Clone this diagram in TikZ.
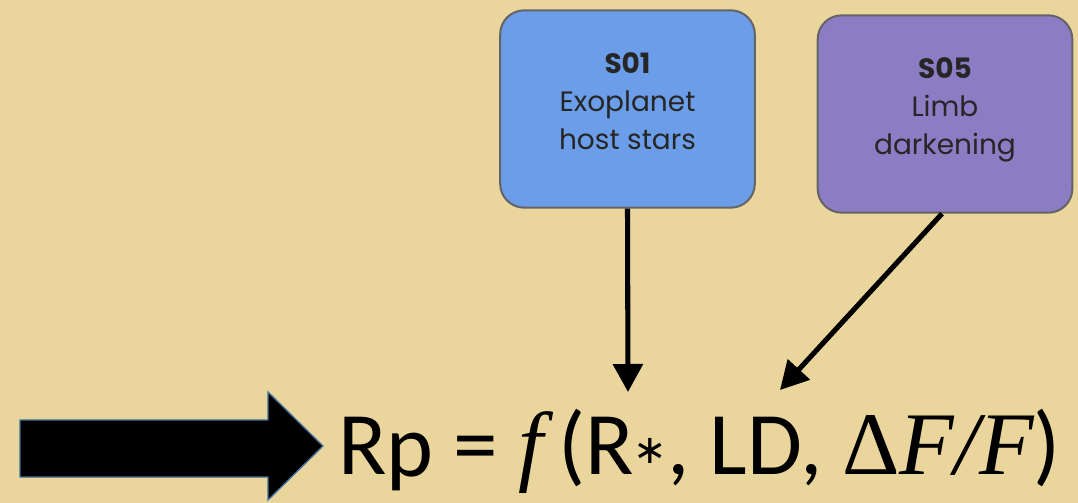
\documentclass[tikz,border=0pt]{standalone}
\usepackage{fontspec}
\usetikzlibrary{arrows.meta}
\newfontfamily\carlito{Carlito}
\newfontfamily\boxfont{Poppins}
\newfontfamily\eqserif{Liberation Serif}
\newfontfamily\symfont{DejaVu Sans}
\definecolor{parch}{RGB}{234,213,157}
\definecolor{sblue}{RGB}{108,157,232}
\definecolor{spurple}{RGB}{139,124,196}
\definecolor{sborder}{RGB}{100,100,100}
\definecolor{arrowedge}{RGB}{65,113,156}
\tikzset{
  stagebox/.style={draw=sborder, line width=1.5pt, rounded corners=18pt,
    minimum width=191pt, minimum height=148pt, align=center, text depth=12pt,
    font=\boxfont\fontsize{21}{28.5}\selectfont, text=black!85},
  flow/.style={line width=3.8pt, -{Triangle[length=21pt,width=22pt]}}
}
\begin{document}
\begin{tikzpicture}[x=0.75pt,y=-0.75pt]
\fill[parch] (0,0) rectangle (1078,503);
\useasboundingbox (0,0) rectangle (1078,503);

\node[stagebox, fill=sblue] (s01) at (627.5,109) {\textbf{S01}\\Exoplanet\\host stars};
\node[stagebox, fill=spurple] (s05) at (945,114) {\textbf{S05}\\Limb\\darkening};

\node[anchor=base west, inner sep=0pt, font=\carlito\fontsize{67}{80}\selectfont] (eq) at (338,474)
  {R\raisebox{-1.5pt}{p} = {\eqserif\itshape f}\,(R{\symfont\fontsize{30}{30}\selectfont\raisebox{8pt}{∗}}, LD, {\eqserif Δ\itshape F/F})};

\coordinate (t1) at (628,392);
\coordinate (t5) at (780,390);
\draw[flow] (s01.south) -- (t1);
\draw[flow] ([xshift=-2.25pt]s05.south) -- (t5);

\draw[fill=black, draw=arrowedge, line width=1pt]
  (20,420) -- (268,420) -- (268,392) -- (323,446) -- (268,500) -- (268,477) -- (20,477) -- cycle;
\end{tikzpicture}
\end{document}
